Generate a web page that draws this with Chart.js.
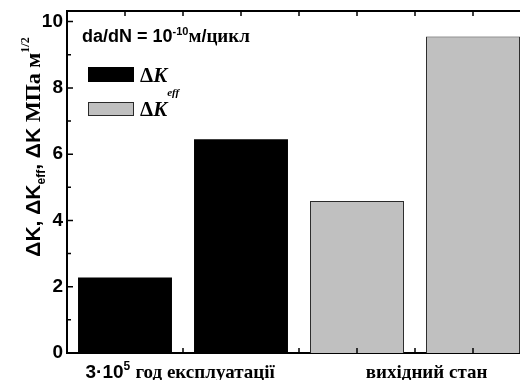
<!DOCTYPE html>
<html>
<head>
<meta charset="utf-8">
<title>da/dN = 1e-10 : ΔK comparison</title>
<script src="https://cdn.jsdelivr.net/npm/chart.js"></script>
<style>
    html, body { margin: 0; padding: 0; background: #fff; overflow: hidden; }
    #wrap { width: 520px; height: 380px; overflow: hidden; }
</style>
</head>
<body>
<div id="wrap">
    <canvas id="kChart" width="560" height="380"></canvas>
</div>
<script>
    // bar slots on the x axis (one slot = half a bar step) and values
    const effSlots = [1, 3];
    const effValues = [2.28, 6.45];
    const fullSlots = [5, 7];
    const fullValues = [4.59, 9.55];

    // group captions under the axis and the slot they sit under
    const groupLabels = ['3·10^{5} год експлуатації', 'вихідний стан'];
    const groupSlots = [1.95, 6.2];

    const yTicks = [0, 2, 4, 6, 8, 10];
    const yMinorTicks = [1, 3, 5, 7, 9];
    const xTickSlots = [1, 2, 3, 4, 5, 6, 7];

    const yTitle = 'ΔK, ΔK_{eff}, ΔK МПа м^{1/2}';
    const note = 'da/dN = 10^{-10}м/цикл';
    const legendLabels = ['ΔK_{eff}', 'ΔK'];

    const SANS = '"Liberation Sans", Arial, sans-serif';
    const SERIF = '"Liberation Serif", "Times New Roman", serif';

    // split "a^{b}c_{d}" into base / sup / sub parts
    function parseRich(str) {
        const parts = [];
        const re = /([\^_])\{([^}]*)\}/g;
        let last = 0, m;
        while ((m = re.exec(str))) {
            if (m.index > last) parts.push({ text: str.slice(last, m.index), kind: 'base' });
            parts.push({ text: m[2], kind: m[1] === '^' ? 'sup' : 'sub' });
            last = re.lastIndex;
        }
        if (last < str.length) parts.push({ text: str.slice(last), kind: 'base' });
        return parts;
    }

    // cyrillic in a serif face, everything else sans (like the original figure)
    function buildRuns(str, o) {
        const runs = [];
        let fam = o.family || SANS;
        const push = (text, family, size, dy, italic) => {
            const r = runs[runs.length - 1];
            if (r && r.family === family && r.size === size && r.dy === dy && r.italic === italic) r.text += text;
            else runs.push({ text, family, size, dy, italic });
        };
        for (const p of parseRich(str)) {
            if (p.kind !== 'base') {
                const dy = p.kind === 'sup' ? -o.sup : o.sub;
                for (const ch of p.text) push(ch, fam, o.small, dy, !!o.italic);
                continue;
            }
            for (const ch of p.text) {
                if (!o.family && !/\s/.test(ch)) fam = /[\u0400-\u04FF]/.test(ch) ? SERIF : SANS;
                const italic = !!o.italic && !/[\u0370-\u03FF]/.test(ch);
                const size = fam === SERIF && o.serifSize ? o.serifSize : o.size;
                push(ch, fam, size, 0, italic);
            }
        }
        return runs;
    }

    function drawRich(ctx, str, x, y, o) {
        const runs = buildRuns(str, o);
        let total = 0;
        for (const r of runs) {
            ctx.font = (r.italic ? 'italic ' : '') + 'bold ' + r.size + 'px ' + r.family;
            r.w = ctx.measureText(r.text).width;
            total += r.w;
        }
        let cx = o.align === 'center' ? x - total / 2 : x;
        ctx.textAlign = 'left';
        ctx.textBaseline = 'alphabetic';
        ctx.fillStyle = '#000';
        for (const r of runs) {
            ctx.font = (r.italic ? 'italic ' : '') + 'bold ' + r.size + 'px ' + r.family;
            ctx.fillText(r.text, cx, y + r.dy);
            cx += r.w;
        }
    }

    const decorPlugin = {
        id: 'decor',
        afterDraw(chart) {
            const { ctx, chartArea: a, scales: { x, y } } = chart;
            ctx.save();
            ctx.strokeStyle = '#000';

            // top frame line
            ctx.lineWidth = 2;
            ctx.beginPath();
            ctx.moveTo(a.left - 1, a.top);
            ctx.lineTo(a.right + 1, a.top);
            ctx.stroke();

            // ticks point inwards
            ctx.lineWidth = 1.5;
            ctx.beginPath();
            yTicks.forEach(v => {
                const py = y.getPixelForValue(v);
                ctx.moveTo(a.left, py); ctx.lineTo(a.left + 6, py);
            });
            yMinorTicks.forEach(v => {
                const py = y.getPixelForValue(v);
                ctx.moveTo(a.left, py); ctx.lineTo(a.left + 4, py);
            });
            xTickSlots.forEach(v => {
                const px = x.getPixelForValue(v);
                ctx.moveTo(px, a.bottom); ctx.lineTo(px, a.bottom - 5);
                ctx.moveTo(px, a.top); ctx.lineTo(px, a.top + 5);
            });
            ctx.stroke();

            // group captions
            groupLabels.forEach((lab, i) => {
                drawRich(ctx, lab, x.getPixelForValue(groupSlots[i]), 378,
                    { size: 19, serifSize: 19, small: 12, sup: 8, sub: 4, align: 'center' });
            });

            // y axis title
            ctx.save();
            ctx.translate(40, 147);
            ctx.rotate(-Math.PI / 2);
            drawRich(ctx, yTitle, 0, 0, { size: 21, serifSize: 22, small: 12, sup: 11, sub: 5, align: 'center' });
            ctx.restore();

            // note in the corner
            drawRich(ctx, note, 82, 42, { size: 18, serifSize: 19, small: 11, sup: 7, sub: 4 });

            // legend
            const boxes = [[88, 67, 46, 15], [88, 102, 46, 14]];
            chart.data.datasets.forEach((ds, i) => {
                const [bx, by, bw, bh] = boxes[i];
                ctx.fillStyle = ds.backgroundColor;
                ctx.fillRect(bx, by, bw, bh);
                ctx.lineWidth = 1;
                ctx.strokeStyle = ds.borderColor;
                ctx.strokeRect(bx + 0.5, by + 0.5, bw - 1, bh - 1);
                drawRich(ctx, legendLabels[i], 140, by + bh, { size: 21, small: 11, sup: 8, sub: 14, family: SERIF, italic: true });
            });
            ctx.restore();
        }
    };

    const ctx = document.getElementById('kChart').getContext('2d');
    const kChart = new Chart(ctx, {
        type: 'bar',
        data: {
            datasets: [
                {
                    label: 'ΔK eff',
                    data: effSlots.map((s, i) => ({ x: s, y: effValues[i] })),
                    backgroundColor: '#000000',
                    borderColor: '#000000',
                    borderWidth: 0,
                    grouped: false,
                    barPercentage: 0.81,
                    categoryPercentage: 1,
                },
                {
                    label: 'ΔK',
                    data: fullSlots.map((s, i) => ({ x: s, y: fullValues[i] })),
                    backgroundColor: '#c0c0c0',
                    borderColor: '#2a2a2a',
                    borderWidth: 1,
                    grouped: false,
                    barPercentage: 0.81,
                    categoryPercentage: 1,
                },
            ],
        },
        options: {
            responsive: false,
            animation: false,
            layout: { padding: { top: 11, right: 29, left: 0, bottom: 0 } },
            plugins: {
                legend: { display: false },
                tooltip: { enabled: false },
            },
            scales: {
                x: {
                    type: 'linear',
                    min: 0,
                    max: 8,
                    offset: false,
                    ticks: { display: false, stepSize: 2 },
                    grid: { display: false, drawTicks: false, offset: false },
                    border: { display: true, color: '#000', width: 2 },
                    afterFit(scale) {
                        scale.height = 27;
                        scale.paddingLeft = 0;
                        scale.paddingRight = 0;
                    },
                },
                y: {
                    min: 0,
                    max: 10.32,
                    afterBuildTicks(scale) {
                        scale.ticks = yTicks.map(v => ({ value: v }));
                    },
                    ticks: {
                        color: '#000',
                        padding: 4,
                        font: { family: SANS, size: 19, weight: 'bold' },
                    },
                    grid: { display: false, drawTicks: false },
                    border: { display: true, color: '#000', width: 2 },
                    afterFit(scale) {
                        scale.width = 67;
                        scale.paddingTop = 0;
                        scale.paddingBottom = 0;
                    },
                },
            },
        },
        plugins: [decorPlugin],
    });
</script>
</body>
</html>
